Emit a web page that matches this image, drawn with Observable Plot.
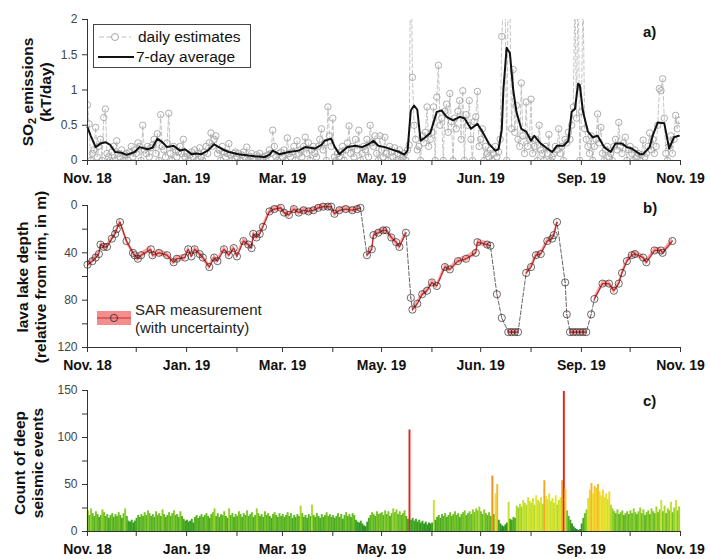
<!DOCTYPE html>
<html><head><meta charset="utf-8">
<script src="https://cdn.jsdelivr.net/npm/d3@7"></script>
<script src="https://cdn.jsdelivr.net/npm/@observablehq/plot@0.6"></script>
<style>
body{margin:0;background:#fff;font-family:"Liberation Sans",Arial,sans-serif;}
#wrap{position:relative;width:710px;height:559px;overflow:hidden;background:#fff}
.panel{position:absolute;left:0}
.ytitle{position:absolute;transform:translate(-50%,-50%) rotate(-90deg);font-weight:bold;font-size:15.5px;line-height:18px;text-align:center;white-space:nowrap;color:#111}
.ytitle sub{font-size:11px;vertical-align:-3px;line-height:0}
#overlay{position:absolute;left:0;top:0;pointer-events:none}
</style></head><body><div id="wrap"></div>
<script>
// ---------- data ----------
const startDate = new Date(Date.UTC(2018, 10, 1));
const endDate = new Date(Date.UTC(2019, 10, 1));
const xTickLabels = ["Nov. 18", "", "Jan. 19", "", "Mar. 19", "", "May. 19", "", "Jun. 19", "", "Sep. 19", "", "Nov. 19"];
const so2Ticks = [0, 0.5, 1, 1.5, 2];
const lakeTicks = [0, 20, 40, 60, 80, 100, 120];
const quakeTicks = [0, 25, 50, 75, 100, 125, 150];

// daily SO2 estimates (kT/day), one per day from Nov 1 2018
const so2Daily = [
 0.79,0.52,0.0,0.1,0.15,0.47,0.05,0.2,0.3,0.0,0.61,0.73,0.1,0.05,0.0,0.12,0.2,0.0,0.28,0.1,0.05,0.15,0.0,0.08,0.1,0.0,0.12,0.2,0.05,0.15,
 0.1,0.25,0.2,0.0,0.5,0.15,0.1,0.2,0.05,0.18,0.22,0.3,0.1,0.38,0.0,0.65,0.2,0.15,0.05,0.25,0.67,0.1,0.0,0.2,0.15,0.05,0.12,0.2,0.1,0.3,0.05,
 0.1,0.0,0.08,0.12,0.05,0.15,0.0,0.1,0.18,0.05,0.0,0.12,0.2,0.1,0.25,0.39,0.2,0.3,0.35,0.1,0.15,0.0,0.2,0.12,0.05,0.1,0.24,0.08,0.0,0.1,0.12,
 0.05,0.1,0.0,0.08,0.12,0.05,0.19,0.0,0.06,0.1,0.02,0.0,0.08,0.05,0.1,0.0,0.04,0.06,0.0,0.08,0.15,0.1,0.43,0.2,0.05,0.0,0.1,0.12,
 0.05,0.15,0.0,0.32,0.1,0.05,0.12,0.2,0.0,0.28,0.1,0.15,0.05,0.2,0.33,0.1,0.25,0.0,0.15,0.2,0.1,0.05,0.2,0.3,0.45,0.15,0.25,0.0,0.76,0.35,0.2,
 0.6,0.05,0.0,0.1,0.05,0.12,0.2,0.0,0.15,0.25,0.49,0.1,0.2,0.05,0.3,0.15,0.43,0.0,0.1,0.2,0.15,0.3,0.05,0.5,0.25,0.2,0.35,0.1,0.0,0.35,
 0.15,0.05,0.33,0.1,0.0,0.2,0.12,0.05,0.18,0.0,0.1,0.15,0.0,0.05,0.1,0.0,0.15,0.22,3.4,1.18,0.5,0.3,0.15,0.2,0.0,0.35,0.25,0.4,0.76,0.2,0.3,
 0.4,0.76,0.0,0.9,1.35,0.5,0.6,0.0,0.7,0.8,0.4,0.95,0.55,0.0,0.6,0.45,0.7,0.85,0.3,0.99,0.0,0.65,0.5,0.85,0.3,0.0,0.55,0.62,0.98,0.2,
 0.3,0.45,0.0,0.2,0.1,0.05,0.15,0.0,0.1,0.2,0.05,0.12,0.3,1.76,2.2,2.4,0.0,2.7,2.2,0.45,1.29,0.4,0.78,0.3,0.2,1.1,0.35,0.1,0.83,0.2,0.3,
 0.87,0.1,0.2,0.3,0.0,0.5,0.15,0.1,0.0,0.2,0.1,0.37,0.0,0.05,0.1,0.2,0.15,0.45,0.1,0.2,0.0,0.3,0.25,0.4,0.3,0.5,0.76,2.4,0.6,2.8,0.0,
 0.69,2.5,0.45,0.3,0.2,0.1,0.35,0.0,0.2,0.3,0.66,0.25,0.47,0.1,0.0,0.15,0.2,0.05,0.1,0.0,0.2,0.3,0.15,0.54,0.2,0.1,0.25,0.33,0.0,0.15,
 0.2,0.1,0.0,0.15,0.05,0.1,0.0,0.08,0.29,0.05,0.1,0.2,0.39,0.15,0.3,0.1,0.2,0.5,1.02,0.99,1.16,0.6,0.1,0.0,0.2,0.35,0.1,0.3,0.64,0.45,0.57
];

// 7-day average (day offset from Nov 1 2018, value)
const so2AvgDay = [0,2,5,8,11,14,17,21,24,29,32,37,40,43,46,49,53,57,60,64,67,70,74,78,80,83,87,93,99,103,109,112,114,118,124,130,134,140,144,146,150,152,155,160,165,169,173,176,179,183,188,192,195,197,199,201,203,205,208,211,215,218,221,225,229,232,236,240,243,247,251,253,255,256,258,260,262,264,267,270,273,275,279,283,286,289,293,296,298,300,302,303,305,308,311,314,318,322,325,329,332,335,340,342,346,348,351,355,358,361,364];
const so2AvgVal = [0.47,0.35,0.19,0.24,0.26,0.22,0.12,0.11,0.08,0.12,0.19,0.16,0.18,0.31,0.26,0.19,0.21,0.14,0.16,0.09,0.1,0.09,0.14,0.23,0.2,0.16,0.12,0.09,0.07,0.06,0.05,0.08,0.14,0.09,0.12,0.14,0.19,0.17,0.22,0.28,0.31,0.2,0.09,0.19,0.21,0.19,0.23,0.28,0.21,0.19,0.15,0.12,0.085,0.14,0.71,0.78,0.72,0.28,0.33,0.39,0.69,0.71,0.62,0.57,0.62,0.6,0.45,0.52,0.41,0.24,0.14,0.16,0.44,1.01,1.6,1.52,1.01,0.69,0.45,0.41,0.28,0.35,0.24,0.17,0.12,0.21,0.21,0.28,0.69,0.73,1.09,1.07,0.69,0.41,0.33,0.35,0.19,0.12,0.24,0.24,0.19,0.17,0.09,0.09,0.19,0.36,0.54,0.53,0.17,0.33,0.35];

// lava lake depth (day offset, depth in m)
const lakeDay = [0,3,5,7,8,10,12,15,17,18,20,24,28,29,31,33,39,40,44,49,53,55,60,62,64,66,69,71,75,78,80,84,87,90,92,96,99,101,102,104,106,108,112,115,119,121,124,127,130,133,136,139,142,145,148,150,152,155,159,163,166,168,
 172,175,176,179,182,184,187,190,192,196,199,
 200,203,206,209,212,215,220,223,228,233,239,240,246,248,252,255,
 259,261,263,265,270,273,276,279,283,286,287,289,294,295,
 297,299,301,303,305,307,310,312,317,321,324,327,329,332,335,337,342,344,349,353,354,360];
const lakeDepth = [50,47,44,41,33,35,35,28,24,20,14,30,40,42,45,42,37,42,40,42,48,45,44,37,43,37,41,44,52,44,47,37,42,36,43,30,33,36,24,27,24,18,5,3,2,6,8,3,6,4,5,4,2,1,1,1,7,4,3,4,3,2,
 42,37,25,23,21,21,27,31,35,23,78,
 88,83,75,72,65,68,52,54,47,45,40,31,33,34,75,95,
 107,107,107,107,57,52,42,41,30,28,25,14,65,92,
 107,107,107,107,107,107,92,79,66,66,72,66,57,47,42,41,44,48,38,38,40,30];
const lakeSegmentStarts = [0,172,199,200,252,255,259,270,294,295,297,310,312];
const lakeUncertainty = 2.5;

// daily count of deep seismic events
const quakeCount = [
 22,17,24,19,16,21,18,15,17,23,20,16,18,14,17,19,15,18,16,20,17,14,19,24,16,11,10,12,9,11,
 14,17,15,18,16,20,17,22,19,16,18,15,21,17,19,16,23,18,15,17,20,16,19,22,17,18,15,21,16,13,11,
 12,10,11,13,9,15,17,14,16,18,15,17,19,16,14,18,20,24,16,19,15,18,17,21,16,14,24,17,19,15,18,
 16,21,18,15,19,17,22,16,18,20,15,17,24,19,16,18,15,21,17,19,16,14,18,20,17,15,19,16,
 18,15,17,20,16,19,14,17,15,18,16,27,19,15,17,14,18,16,28,17,15,19,16,14,18,15,17,20,16,18,15,
 17,14,16,19,15,18,13,17,20,16,18,15,19,17,12,10,9,11,8,6,5,10,14,17,20,18,16,21,18,19,
 20,17,22,18,21,16,19,24,20,23,18,21,17,19,22,16,13,108,12,14,11,13,10,12,9,11,8,10,7,9,8,
 9,33,12,15,17,14,18,16,19,15,17,20,16,18,21,17,19,15,18,20,22,17,19,21,18,23,20,24,22,26,
 21,18,23,19,17,20,16,59,18,40,50,12,8,6,5,7,9,31,13,12,15,14,27,25,29,26,33,30,28,36,32,
 30,35,28,38,33,31,36,29,54,37,34,40,32,35,30,38,28,33,36,54,149,45,22,16,12,8,5,3,2,1,2,
 8,14,19,23,35,44,51,40,48,46,50,42,38,44,36,40,34,42,28,24,21,19,23,18,20,22,17,19,21,18,
 22,19,24,20,18,21,25,19,23,17,20,22,18,24,21,19,26,20,23,33,21,27,19,24,22,31,20,25,33,22,26
];

// ---------- helpers ----------
const dayMs = 864e5;
const toDate = d => new Date(startDate.getTime() + d * dayMs);
const tickDates = d3.utcMonth.range(startDate, d3.utcDay.offset(endDate, 1));
const labelMap = new Map(tickDates.map((d, i) => [+d, xTickLabels[i]]));
const FONT = "'Liberation Sans', Arial, sans-serif";
const axisCol = "#333";

const so2Data = so2Daily.map((v, i) => ({date: toDate(i), v}));
const avgData = so2AvgDay.map((d, i) => ({date: toDate(d), v: so2AvgVal[i]}));
const lakeData = lakeDay.map((d, i) => ({
  date: toDate(d), depth: lakeDepth[i],
  seg: d3.bisectRight(lakeSegmentStarts, d)
}));
const quakeData = quakeCount.map((v, i) => ({date: toDate(i), date2: toDate(i + 1), v}));
const quakeColor = d3.scaleLinear()
  .domain([0, 8, 14, 19, 24, 30, 38, 46, 56, 75, 110])
  .range(["#1e861c", "#2c961e", "#48aa20", "#6abd24", "#92cf2a", "#bfdf2e", "#e3e52e", "#f5cf26", "#f49a22", "#ee5a22", "#e4201f"])
  .clamp(true);

function common(height, mt, mb) {
  return {
    width: 710, height, marginLeft: 87, marginRight: 30, marginTop: mt, marginBottom: mb,
    x: {type: "utc", domain: [startDate, endDate]},
    style: {fontFamily: FONT, background: "transparent", color: "#222", overflow: "visible"}
  };
}
function xAxisMarks() {
  return [
    Plot.axisX(tickDates, {tickSize: 5, tickPadding: 8, tickFormat: d => labelMap.get(+d), fontSize: 14, fontWeight: "bold", fill: "#111", stroke: axisCol, label: null})
  ];
}
function yAxis(ticks, fmt) {
  return Plot.axisY(ticks, {tickSize: 5, tickPadding: 5, tickFormat: fmt, fontSize: 12, fill: "#444", stroke: axisCol, label: null});
}

// ---------- panel a ----------
const plotA = Plot.plot({
  ...common(188, 19, 28),
  y: {domain: [0, 2]},
  marks: [
    Plot.line(so2Data, {x: "date", y: "v", stroke: "#bdbdbd", strokeWidth: 0.9, strokeDasharray: "4,2.5", clip: true}),
    Plot.dot(so2Data, {x: "date", y: "v", r: 3.2, stroke: "#a5a5a5", strokeWidth: 0.9, fill: "none", clip: true}),
    Plot.line(avgData, {x: "date", y: "v", stroke: "#111", strokeWidth: 2, curve: "linear"}),
    Plot.ruleY([0], {stroke: axisCol}),
    Plot.ruleX([startDate], {stroke: axisCol}),
    yAxis(so2Ticks, d => String(d)),
    ...xAxisMarks()
  ]
});

// ---------- panel b ----------
const plotB = Plot.plot({
  ...common(187, 17, 28),
  y: {domain: [0, 120], reverse: true},
  marks: [
    Plot.areaY(lakeData, {x: "date", y1: d => d.depth - lakeUncertainty, y2: d => d.depth + lakeUncertainty, z: "seg", fill: "#f06868", fillOpacity: 0.6}),
    Plot.line(lakeData, {x: "date", y: "depth", stroke: "#555", strokeWidth: 0.9, strokeDasharray: "4,2"}),
    Plot.line(lakeData, {x: "date", y: "depth", z: "seg", stroke: "#d22a2a", strokeWidth: 1.2}),
    Plot.dot(lakeData, {x: "date", y: "depth", r: 3.6, stroke: "#222", strokeOpacity: 0.85, strokeWidth: 0.8, fill: "none"}),
    Plot.ruleY([120], {stroke: axisCol}),
    Plot.ruleX([startDate], {stroke: axisCol}),
    yAxis(lakeTicks, d => (d % 40 === 0 ? String(d) : "")),
    ...xAxisMarks()
  ]
});

// ---------- panel c ----------
const plotC = Plot.plot({
  ...common(184, 15, 28),
  y: {domain: [0, 150]},
  marks: [
    Plot.rectY(quakeData, {x1: "date", x2: "date2", y: "v", fill: d => quakeColor(d.v), insetLeft: -0.15, insetRight: -0.15}),
    Plot.ruleY([0], {stroke: axisCol}),
    Plot.ruleX([startDate], {stroke: axisCol}),
    yAxis(quakeTicks, d => (d % 50 === 0 ? String(d) : "")),
    ...xAxisMarks()
  ]
});

// ---------- layout ----------
const wrap = document.getElementById("wrap");
[[plotA, 0], [plotB, 188], [plotC, 375]].forEach(([p, top]) => {
  const div = document.createElement("div");
  div.className = "panel";
  div.style.top = top + "px";
  div.appendChild(p);
  wrap.appendChild(div);
});

// axis titles
const titles = [
  {html: "SO<sub>2</sub> emissions<br>(kT/day)", x: 37, y: 92},
  {html: "lava lake depth<br>(relative from rim, in m)", x: 32, y: 277},
  {html: "Count of deep<br>seismic events", x: 29, y: 463}
];
titles.forEach(t => {
  const d = document.createElement("div");
  d.className = "ytitle";
  d.style.left = t.x + "px";
  d.style.top = t.y + "px";
  d.innerHTML = t.html;
  wrap.appendChild(d);
});

// legends and panel tags
const ns = "http://www.w3.org/2000/svg";
const ov = document.createElementNS(ns, "svg");
ov.setAttribute("id", "overlay");
ov.setAttribute("width", 710);
ov.setAttribute("height", 559);
ov.setAttribute("font-family", FONT);
ov.innerHTML = `
  <rect x="93.5" y="24.5" width="157" height="43" fill="#fff" stroke="#444" stroke-width="1"/>
  <line x1="99" x2="131" y1="37" y2="37" stroke="#bdbdbd" stroke-width="1" stroke-dasharray="5,2.5"/>
  <circle cx="115" cy="37" r="3.5" fill="#fff" stroke="#a5a5a5" stroke-width="1"/>
  <text x="138" y="37" dy="0.35em" font-size="15.5" fill="#111">daily estimates</text>
  <line x1="98" x2="134" y1="57" y2="57" stroke="#111" stroke-width="2"/>
  <text x="136" y="57" dy="0.35em" font-size="15.5" fill="#111">7-day average</text>
  <rect x="97" y="311" width="34" height="14" fill="#f06868" fill-opacity="0.75"/>
  <line x1="97" x2="131" y1="318" y2="318" stroke="#c42828" stroke-width="1.2"/>
  <circle cx="114" cy="318" r="3.6" fill="none" stroke="#333" stroke-width="0.9"/>
  <text x="135" y="310" dy="0.35em" font-size="15" fill="#222">SAR measurement</text>
  <text x="135" y="328" dy="0.35em" font-size="15" fill="#222">(with uncertainty)</text>
  <text x="643" y="32" dy="0.35em" font-size="15" font-weight="bold" fill="#111">a)</text>
  <text x="643" y="208" dy="0.35em" font-size="15" font-weight="bold" fill="#111">b)</text>
  <text x="643" y="401" dy="0.35em" font-size="15" font-weight="bold" fill="#111">c)</text>
`;
wrap.appendChild(ov);
</script>
</body></html>
